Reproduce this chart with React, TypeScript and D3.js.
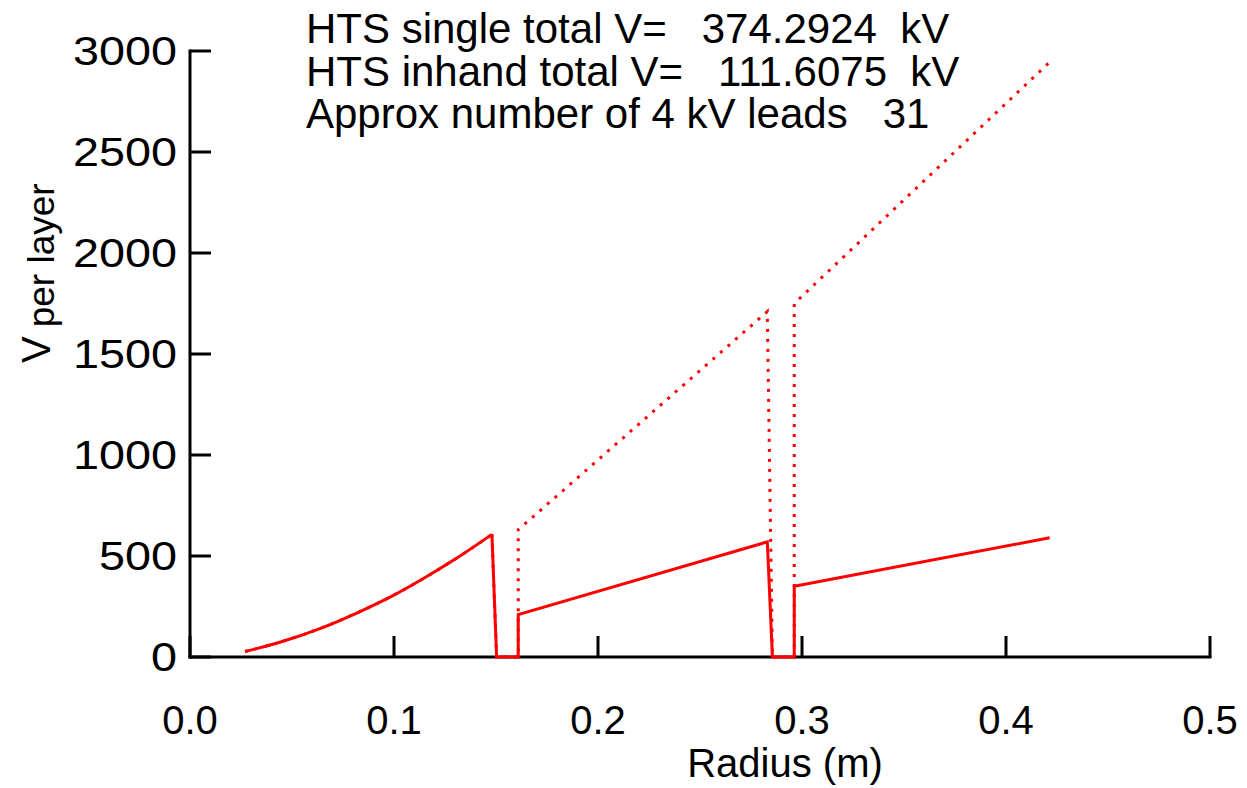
import React from 'react';
import * as d3 from 'd3';

// Radius (m) and voltage per layer (V)
const radius = [0.027, 0.044, 0.064, 0.082, 0.0997, 0.114, 0.131, 0.148, 0.1503, 0.1609, 0.1609, 0.283, 0.2855, 0.2962, 0.2962, 0.4214];
const inhandV = [27, 73, 142, 219, 305, 386, 491, 607, 0, 0, 210, 570, 0, 0, 350, 590];
const singleV = [27, 73, 142, 219, 305, 386, 491, 607, 0, 0, 630, 1710, 0, 0, 1750, 2945];
const curvedCount = 8; // first points form a smooth curve

const xTicks = [0, 0.1, 0.2, 0.3, 0.4, 0.5];
const xTickLabels = ['0.0', '0.1', '0.2', '0.3', '0.4', '0.5'];
const yTicks = [0, 500, 1000, 1500, 2000, 2500, 3000];
const yTickLabels = ['0', '500', '1000', '1500', '2000', '2500', '3000'];

const infoLines = [
  'HTS single total V=   374.2924  kV',
  'HTS inhand total V=   111.6075  kV',
  'Approx number of 4 kV leads   31',
];

const W = 1247;
const H = 788;
const FONT = "'Liberation Sans', Arial, sans-serif";
const RED = '#ff0000';

export default function App() {
  const x = d3.scaleLinear().domain([0, 0.5]).range([190, 1210]);
  const y = d3.scaleLinear().domain([0, 3000]).range([657, 51]);

  const pts = (vals: number[]) => radius.map((r, i) => [r, vals[i]] as [number, number]);
  const curveLine = d3.line<[number, number]>().x(d => x(d[0])).y(d => y(d[1])).curve(d3.curveMonotoneX);
  const straightLine = d3.line<[number, number]>().x(d => x(d[0])).y(d => y(d[1]));

  const paths = (vals: number[]) => {
    const p = pts(vals);
    return [curveLine(p.slice(0, curvedCount)) || '', straightLine(p.slice(curvedCount - 1)) || ''];
  };

  const inhandPaths = paths(inhandV);
  const singlePaths = paths(singleV);

  return (
    <svg width={W} height={H} style={{ position: 'absolute', left: 0, top: 0, background: '#fff' }} fontFamily={FONT}>
      <rect x={0} y={0} width={W} height={H} fill="#fff" />
      {/* axes */}
      <g stroke="#000" strokeWidth={3} fill="none">
        <line x1={x(0)} y1={y(3000) - 1.5} x2={x(0)} y2={y(0) + 1.5} />
        <line x1={x(0) - 1.5} y1={y(0)} x2={x(0.5) + 1.5} y2={y(0)} />
        {yTicks.map(t => (
          <line key={'yt' + t} x1={x(0)} y1={y(t)} x2={x(0) + 21} y2={y(t)} />
        ))}
        {xTicks.map(t => (
          <line key={'xt' + t} x1={x(t)} y1={y(0)} x2={x(t)} y2={y(0) - 21} />
        ))}
      </g>
      <g fontSize={40} fill="#000">
        {yTicks.map((t, i) => (
          <text key={'yl' + t} x={177} y={y(t) + 14} textAnchor="end"
            textLength={yTickLabels[i].length * 26} lengthAdjust="spacingAndGlyphs">{yTickLabels[i]}</text>
        ))}
        {xTicks.map((t, i) => (
          <text key={'xl' + t} x={x(t)} y={734} textAnchor="middle">{xTickLabels[i]}</text>
        ))}
      </g>
      {/* data */}
      <g fill="none" stroke={RED} strokeWidth={3} strokeLinejoin="miter">
        {inhandPaths.map((d, i) => <path key={'ih' + i} d={d} />)}
      </g>
      <g fill="none" stroke={RED} strokeWidth={3} strokeDasharray="3 7">
        {singlePaths.map((d, i) => <path key={'sg' + i} d={d} />)}
      </g>
      {/* titles */}
      <text x={785} y={777} fontSize={40} textAnchor="middle">Radius (m)</text>
      <text transform="rotate(-90)" x={-363} y={50} fontSize={40}>
        V<tspan fontSize={37} dx={9} dy={4}>per layer</tspan>
      </text>
      <g fontSize={42} fill="#000">
        {infoLines.map((s, i) => (
          <text key={'info' + i} x={306} y={43 + i * 42.5} style={{ whiteSpace: 'pre' }}>{s}</text>
        ))}
      </g>
    </svg>
  );
}
